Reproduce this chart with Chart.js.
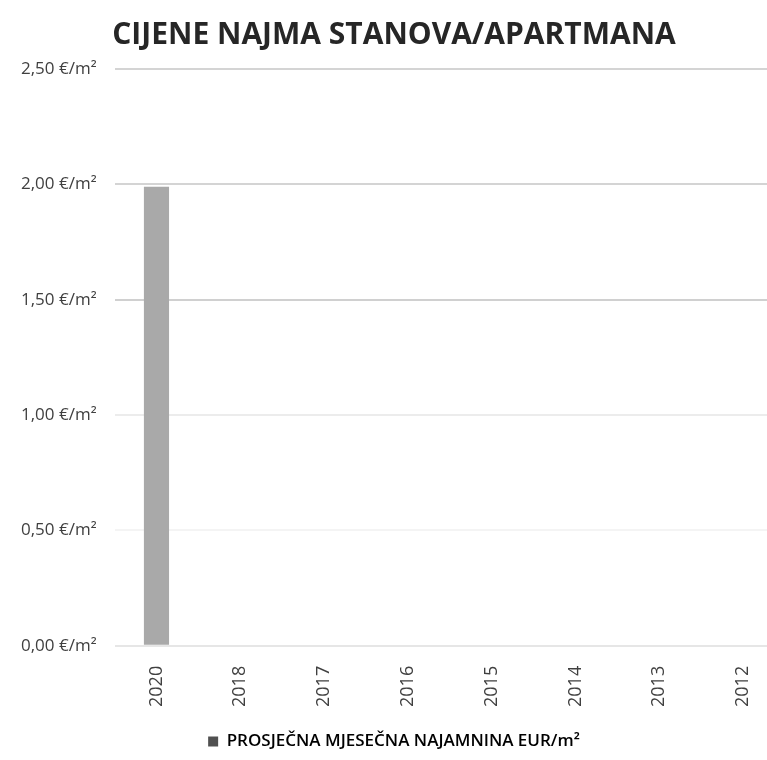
<!DOCTYPE html>
<html>
<head>
<meta charset="utf-8">
<script src="https://cdn.jsdelivr.net/npm/chart.js@4/dist/chart.umd.min.js"></script>
<style>
html,body{margin:0;padding:0;background:#fff;overflow:hidden;}
#wrap{position:relative;width:785px;height:760px;}
</style>
</head>
<body>
<div id="wrap"><canvas id="c"></canvas></div>
<script>
const categories = ['2020','2018','2017','2016','2015','2014','2013','2012'];
const rentValues = [1.99, null, null, null, null, null, null, null];
const seriesLabel = 'PROSJEČNA MJESEČNA NAJAMNINA EUR/m²';
const chartTitle = 'CIJENE NAJMA STANOVA/APARTMANA';
const yTicks = [0, 0.5, 1, 1.5, 2, 2.5];

const gridColors = {0:'#e6e6e6', 0.5:'#f4f4f4', 1:'#ececec', 1.5:'#d0d0d0', 2:'#d4d4d4', 2.5:'#d4d4d4'};

new Chart(document.getElementById('c'), {
  type: 'bar',
  data: {
    labels: categories,
    datasets: [{
      label: seriesLabel,
      data: rentValues,
      backgroundColor: '#a9a9a9',
      categoryPercentage: 0.6,
      barPercentage: 0.5
    }]
  },
  options: {
    responsive: true,
    maintainAspectRatio: false,
    animation: false,
    layout: { padding: { left: 3, right: 0, top: 0, bottom: 0 } },
    plugins: {
      title: {
        display: true,
        text: chartTitle,
        color: '#262626',
        font: { family: 'Open Sans', size: 30, weight: 'bold' },
        padding: { top: 17, bottom: 16 }
      },
      legend: {
        display: true,
        position: 'bottom',
        labels: {
          color: '#404040',
          font: { family: 'Open Sans', size: 17, weight: '600' },
          boxWidth: 10, boxHeight: 10,
          padding: 14,
          generateLabels: (chart) => [{
            text: seriesLabel, fillStyle: '#505050', strokeStyle: '#505050', lineWidth: 0, datasetIndex: 0
          }]
        }
      },
      tooltip: { enabled: false }
    },
    scales: {
      x: {
        grid: { display: false },
        border: { display: false },
        ticks: {
          color: '#404040',
          font: { family: 'Open Sans', size: 18 },
          minRotation: 90, maxRotation: 90,
          padding: 12
        }
      },
      y: {
        min: 0, max: 2.5,
        afterBuildTicks: (axis) => { axis.ticks = yTicks.map(v => ({ value: v })); },
        border: { display: false },
        grid: {
          color: (ctx) => gridColors[ctx.tick ? ctx.tick.value : 0] || '#d9d9d9',
          lineWidth: 2,
          drawTicks: false
        },
        ticks: {
          color: '#404040',
          font: { family: 'Open Sans', size: 17 },
          padding: 18,
          callback: (v) => Number(v).toFixed(2).replace('.', ',') + ' €/m²'
        }
      }
    }
  }
});
</script>
</body>
</html>
